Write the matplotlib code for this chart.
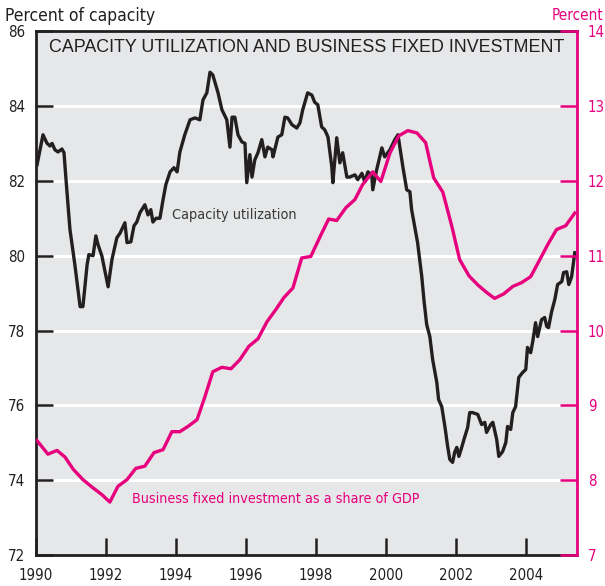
import matplotlib
matplotlib.use("Agg")
import matplotlib.pyplot as plt
from matplotlib import font_manager

# capacity utilization, percent of capacity
cu_years = [
    1990.03, 1990.20, 1990.31, 1990.40, 1990.46, 1990.54, 1990.63, 1990.74, 1990.80, 1990.86,
    1990.97, 1991.11, 1991.26, 1991.34, 1991.46, 1991.51, 1991.63, 1991.71, 1991.77, 1991.88,
    1992.06, 1992.17, 1992.31, 1992.40, 1992.54, 1992.60, 1992.71, 1992.80, 1992.88, 1992.97,
    1993.11, 1993.20, 1993.28, 1993.34, 1993.43, 1993.54, 1993.63, 1993.71, 1993.83, 1993.94,
    1994.03, 1994.11, 1994.25, 1994.40, 1994.54, 1994.68, 1994.77, 1994.88, 1994.97, 1995.05,
    1995.20, 1995.31, 1995.45, 1995.54, 1995.60, 1995.68, 1995.77, 1995.88, 1995.97, 1996.02,
    1996.11, 1996.17, 1996.25, 1996.34, 1996.45, 1996.54, 1996.62, 1996.74, 1996.77, 1996.91,
    1997.02, 1997.11, 1997.19, 1997.31, 1997.45, 1997.54, 1997.62, 1997.76, 1997.88, 1997.96,
    1998.05, 1998.16, 1998.25, 1998.34, 1998.45, 1998.48, 1998.59, 1998.68, 1998.76, 1998.88,
    1998.96, 1999.11, 1999.19, 1999.31, 1999.39, 1999.48, 1999.59, 1999.62, 1999.73, 1999.88,
    1999.96, 2000.11, 2000.25, 2000.34, 2000.48, 2000.59, 2000.68, 2000.73, 2000.82, 2000.90,
    2001.02, 2001.08, 2001.16, 2001.25, 2001.33, 2001.45, 2001.50, 2001.59, 2001.68, 2001.76,
    2001.82, 2001.90, 2001.96, 2002.02, 2002.08, 2002.16, 2002.25, 2002.33, 2002.39, 2002.47,
    2002.62, 2002.73, 2002.82, 2002.87, 2002.99, 2003.05, 2003.16, 2003.22, 2003.33, 2003.42,
    2003.47, 2003.56, 2003.62, 2003.70, 2003.79, 2003.90, 2003.99, 2004.04, 2004.13, 2004.19,
    2004.27, 2004.33, 2004.44, 2004.53, 2004.59, 2004.64, 2004.73, 2004.82, 2004.90, 2005.02,
    2005.07, 2005.16, 2005.22, 2005.30, 2005.39,
]
cu_values = [
    82.43, 83.23, 83.01, 82.93, 83.00, 82.83, 82.77, 82.85, 82.75, 82.00,
    80.70, 79.76, 78.64, 78.64, 79.76, 80.03, 80.00, 80.53, 80.30, 80.00,
    79.17, 79.90, 80.48, 80.60, 80.88, 80.35, 80.37, 80.80, 80.90, 81.15,
    81.36, 81.09, 81.23, 80.90, 81.00, 81.00, 81.50, 81.90, 82.24, 82.35,
    82.24, 82.77, 83.23, 83.63, 83.68, 83.63, 84.16, 84.35, 84.90, 84.83,
    84.35, 83.90, 83.63, 82.90, 83.70, 83.70, 83.23, 83.04, 83.00, 81.95,
    82.70, 82.10, 82.56, 82.75, 83.10, 82.64, 82.90, 82.83, 82.64, 83.17,
    83.23, 83.70, 83.68, 83.50, 83.41, 83.55, 83.90, 84.35, 84.29, 84.10,
    84.03, 83.44, 83.36, 83.17, 82.37, 81.95, 83.15, 82.48, 82.75, 82.10,
    82.10, 82.16, 82.03, 82.20, 81.97, 82.24, 82.16, 81.76, 82.29, 82.88,
    82.64, 82.83, 83.10, 83.23, 82.37, 81.76, 81.71, 81.23, 80.77, 80.35,
    79.44, 78.83, 78.16, 77.84, 77.23, 76.61, 76.16, 75.97, 75.44, 74.90,
    74.56, 74.48, 74.75, 74.88, 74.64, 74.88, 75.17, 75.41, 75.81, 75.81,
    75.76, 75.49, 75.55, 75.28, 75.49, 75.55, 75.09, 74.64, 74.77, 75.01,
    75.44, 75.36, 75.81, 75.97, 76.75, 76.88, 76.96, 77.55, 77.41, 77.71,
    78.21, 77.84, 78.29, 78.35, 78.11, 78.08, 78.51, 78.83, 79.23, 79.31,
    79.55, 79.57, 79.23, 79.44, 80.08,
]

# business fixed investment as a share of GDP, percent (quarterly)
bfi_years = [
    1990.03, 1990.34, 1990.60, 1990.83, 1991.06, 1991.34, 1991.60, 1991.88,
    1992.11, 1992.34, 1992.60, 1992.85, 1993.11, 1993.37, 1993.63, 1993.88,
    1994.11, 1994.34, 1994.60, 1994.82, 1995.05, 1995.31, 1995.57, 1995.82,
    1996.08, 1996.34, 1996.60, 1996.85, 1997.08, 1997.34, 1997.59, 1997.85,
    1998.11, 1998.36, 1998.59, 1998.85, 1999.11, 1999.33, 1999.62, 1999.85,
    2000.11, 2000.36, 2000.62, 2000.88, 2001.13, 2001.36, 2001.62, 2001.88,
    2002.10, 2002.37, 2002.62, 2002.87, 2003.10, 2003.36, 2003.62, 2003.87,
    2004.13, 2004.36, 2004.62, 2004.87, 2005.13, 2005.39,
]
bfi_values = [
    8.53, 8.35, 8.40, 8.31, 8.15, 8.01, 7.91, 7.81,
    7.71, 7.92, 8.01, 8.16, 8.19, 8.37, 8.41, 8.65,
    8.65, 8.72, 8.81, 9.11, 9.45, 9.51, 9.49, 9.61,
    9.79, 9.89, 10.12, 10.28, 10.44, 10.57, 10.97, 10.99,
    11.25, 11.49, 11.47, 11.64, 11.75, 11.95, 12.12, 11.99,
    12.37, 12.60, 12.67, 12.64, 12.51, 12.04, 11.85, 11.39,
    10.95, 10.73, 10.61, 10.51, 10.43, 10.49, 10.59, 10.64,
    10.72, 10.92, 11.15, 11.35, 11.40, 11.57,
]

x_ticks = [1990, 1992, 1994, 1996, 1998, 2000, 2002, 2004]
left_ticks = [72, 74, 76, 78, 80, 82, 84, 86]
right_ticks = [7, 8, 9, 10, 11, 12, 13, 14]

BLACK = "#231f20"
PINK = "#e6007e"
BG = "#e6e7e8"

# the chart uses a narrow grotesque; take a condensed face if one is installed
fonts = font_manager.fontManager.ttflist
names = {f.name for f in fonts}
if "Liberation Sans Narrow" in names:
    family = ["Liberation Sans Narrow", "DejaVu Sans"]
    stretch = "normal"
    scale = 1.15
elif any(f.name == "DejaVu Sans" and f.stretch == "condensed" for f in fonts):
    family = ["DejaVu Sans"]
    stretch = "condensed"
    scale = 1.0
else:
    family = ["Liberation Sans", "DejaVu Sans"]
    stretch = "normal"
    scale = 0.95

plt.rcParams["font.family"] = family
plt.rcParams["font.stretch"] = stretch

fig = plt.figure(figsize=(6.05, 5.86), dpi=100)
ax = fig.add_axes([0.0595, 0.0525, 0.894, 0.8945])
ax2 = ax.twinx()

ax.set_facecolor(BG)
ax.set_xlim(1990, 2005.45)
ax.set_ylim(72, 86)
ax2.set_ylim(7, 14)

for v in left_ticks[1:-1]:
    ax.axhline(v, color="white", linewidth=2.2, zorder=1)

ax.plot(cu_years, cu_values, color=BLACK, linewidth=2.4, zorder=3)
ax2.plot(bfi_years, bfi_values, color=PINK, linewidth=2.4, zorder=3)

ax.set_xticks(x_ticks)
ax.set_xticklabels([str(y) for y in x_ticks])
ax.set_yticks(left_ticks)
ax2.set_yticks(right_ticks)

tick_sz = 10.8 * scale
ax.tick_params(axis="x", direction="in", length=12, width=1.8, color=BLACK,
               labelsize=tick_sz, pad=9, labelcolor=BLACK)
ax.tick_params(axis="y", direction="in", length=12, width=1.8, color=BLACK,
               labelsize=tick_sz, pad=8, labelcolor=BLACK)
ax2.tick_params(axis="y", direction="in", length=12, width=1.8, color=PINK,
                labelsize=tick_sz, pad=8, labelcolor=PINK)

for side in ["left", "bottom", "top"]:
    ax.spines[side].set_linewidth(2.0)
    ax.spines[side].set_color(BLACK)
ax.spines["right"].set_visible(False)
ax2.spines["right"].set_color(PINK)
ax2.spines["right"].set_linewidth(2.0)
for side in ["left", "bottom", "top"]:
    ax2.spines[side].set_visible(False)

ax.text(0.5, 0.969, "CAPACITY UTILIZATION AND BUSINESS FIXED INVESTMENT",
        transform=ax.transAxes, ha="center", va="center", fontsize=12.9,
        color=BLACK, family=["Liberation Sans", "DejaVu Sans"], stretch="normal")
ax.text(1993.88, 81.1, "Capacity utilization", ha="left", va="center",
        fontsize=10.4 * scale, color="#3a3a3a")
ax.text(1992.74, 73.5, "Business fixed investment as a share of GDP",
        ha="left", va="center", fontsize=10.3 * scale, color=PINK)

fig.text(5 / 605, 1 - 16 / 586, "Percent of capacity", ha="left", va="center",
         fontsize=12.5 * scale, color=BLACK)
fig.text(603 / 605, 1 - 16 / 586, "Percent", ha="right", va="center",
         fontsize=11 * scale, color=PINK)

fig.savefig("out.png", dpi=100)
